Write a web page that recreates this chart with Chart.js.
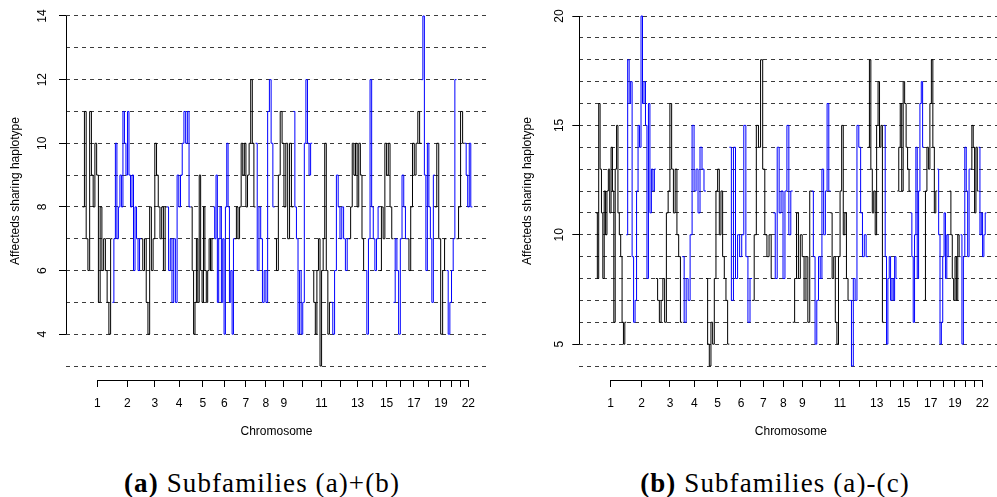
<!DOCTYPE html>
<html><head><meta charset="utf-8">
<script src="https://cdn.jsdelivr.net/npm/chart.js@4.4.1/dist/chart.umd.min.js"></script>
<style>
html,body{margin:0;padding:0;background:#fff;}
#wrap{position:relative;width:997px;height:497px;overflow:hidden;background:#fff;}
.panel{position:absolute;top:0;}
#pA{left:0;}
#pB{left:498px;}
.cap{position:absolute;top:468px;font-family:'Liberation Serif','Times New Roman',serif;font-size:27px;line-height:31px;letter-spacing:1.1px;white-space:nowrap;transform:translateX(-50%);color:#000;}
</style></head><body>
<div id="wrap">
<div class="panel" id="pA"><canvas id="cA" width="498" height="455"></canvas></div>
<div class="panel" id="pB"><canvas id="cB" width="510" height="455"></canvas></div>
<div class="cap" style="left:262px"><b>(a)</b> Subfamilies (a)+(b)</div>
<div class="cap" style="left:775px"><b>(b)</b> Subfamilies (a)-(c)</div>
</div>
<script>
// ---------- shared ----------
const chrNumbers = [1,2,3,4,5,6,7,8,9,10,11,12,13,14,15,16,17,18,19,20,21,22];
const chrLabelsShown = [1,2,3,4,5,6,7,8,9,11,13,15,17,19,22];

// ---------- panel (a): Subfamilies (a)+(b) ----------
const chrBoundsAB = [0,267,525,757,972,1175,1368,1554,1726,1894,2064,2233,2395,2541,2671,2795,2918,3046,3167,3272,3362,3435,3504];
const chrTicksAB  = [132,402,648,867,1080,1275,1467,1647,1809,1979,2148,2318,2472,2610,2733,2858,2979,3112,3222,3321,3402,3468];
const yTicksAB  = [3,4,5,6,7,8,9,10,11,12,13,14];
const yLabelsAB = [4,6,8,10,12,14];
const subAB_chr1  = [8,11,7,6,11,9,8,10,9,5,8,6,7,6,5,4,7];
const subAB_chr2  = [5,7,10,7,8,9,8,11,10,9,11,9,8,9,6,8,7,6,7];
const subAB_chr3  = [7,6,7,5,4,8,6,7,10,9,8,7,8,6,8];
const subAB_chr4  = [8,6,7,5,7,5,9,8,9,10,11,10,11,8];
const subAB_chr5  = [8,6,4,5,7,5,9,6,5,8,6,5,6,7,6,7];
const subAB_chr6  = [8,7,9,5,7,8,5,7,4,8,10,8,5,6,4,7];
const subAB_chr7  = [7,8,7,8,10,9,10,8,9,10,12,10,8];
const subAB_chr8  = [10,6,8,7,5,6,5,11,12,10,8];
const subAB_chr9  = [7,6,9,11,10,8,10,7,10,8];
const subAB_chr10 = [11,8,7,4,6,4,5,10,12,10,9,10];
const subAB_chr11 = [6,5,4,6,7,3,6,7,10,6,4,5];
const subAB_chr12 = [5,4,6,9,8,7,8,7,6,7];
const subAB_chr13 = [7,8,10,9,10,8,10,9,7,6];
const subAB_chr14 = [6,4,7,12,8,7,6,7,8];
const subAB_chr15 = [6,8,7,10,9,10,8,7];
const subAB_chr16 = [5,7,6,4,7,9,8,7];
const subAB_chr17 = [7,6,8,10,9,10,11,10];
const subAB_chr18 = [12,14,9,6,10,8,7,5,9];
const subAB_chr19 = [8,10,7,4,6,7];
const subAB_chr20 = [6,4,5,6,7,12];
const subAB_chr21 = [7,8,11,10];
const subAB_chr22 = [10,9,8,10,8];

// ---------- panel (b): Subfamilies (a)-(c) ----------
const chrBoundsAC = [0,272,539,776,990,1200,1405,1596,1771,1941,2111,2283,2448,2591,2712,2831,2952,3072,3182,3281,3371,3444,3515];
const chrTicksAC  = [132,411,666,885,1095,1305,1506,1686,1857,2025,2196,2370,2526,2655,2769,2892,3013,3132,3231,3330,3411,3477];
const yTicksAC  = [4,5,6,7,8,9,10,11,12,13,14,15,16,17,18,19,20];
const yLabelsAC = [5,10,15,20];
const subAC_chr1  = [11,8,16,13,11,8,12,10,12,13,11,14,12,6,13,15,11,10,9,6,5,6];
const subAC_chr2  = [10,18,16,17,9,6,7,12,15,14,20,16,17,15,8,16,11,13,12,13];
const subAC_chr3  = [8,7,6,7,8,6,11,12,16,13,11,13,10,9,6];
const subAC_chr4  = [9,6,8,7,10,15,12,13,11,14,13,12];
const subAC_chr5  = [8,5,4,6,5,8,12,13,10,12,9,8,7,5];
const subAC_chr6  = [14,7,14,8,10,9,10,15,9,6,8];
const subAC_chr7  = [7,10,15,14,18,13,10,9,10,8];
const subAC_chr8  = [11,8,14,11,12,8,12,15,10,12];
const subAC_chr9  = [6,8,11,8,10,9,7,9,6,12];
const subAC_chr10 = [12,9,5,7,9,8,13,10,12,16,12];
const subAC_chr11 = [11,8,9,6,5,9,12,15,10,11,8,7];
const subAC_chr12 = [7,4,8,7,15,14,11,9,10,9];
const subAC_chr13 = [14,18,13,11,12,10,15,17,14,15,6];
const subAC_chr14 = [15,9,5,8,9,7,8,7,9,8];
const subAC_chr15 = [12,14,16,12,17,16,14,13,12];
const subAC_chr16 = [11,9,6,10,14,8,12,16,17,14];
const subAC_chr17 = [7,12,14,13,16,18,14,11,12];
const subAC_chr18 = [13,10,5,6,9,11,8,10,9];
const subAC_chr19 = [12,10,8,7,9,7,10,9];
const subAC_chr20 = [10,5,9,14,12,9,13];
const subAC_chr21 = [13,15,14,11,14,12];
const subAC_chr22 = [14,10,11,9,10,11];

const seriesAB = [subAB_chr1,subAB_chr2,subAB_chr3,subAB_chr4,subAB_chr5,subAB_chr6,subAB_chr7,subAB_chr8,subAB_chr9,subAB_chr10,subAB_chr11,subAB_chr12,subAB_chr13,subAB_chr14,subAB_chr15,subAB_chr16,subAB_chr17,subAB_chr18,subAB_chr19,subAB_chr20,subAB_chr21,subAB_chr22];
const seriesAC = [subAC_chr1,subAC_chr2,subAC_chr3,subAC_chr4,subAC_chr5,subAC_chr6,subAC_chr7,subAC_chr8,subAC_chr9,subAC_chr10,subAC_chr11,subAC_chr12,subAC_chr13,subAC_chr14,subAC_chr15,subAC_chr16,subAC_chr17,subAC_chr18,subAC_chr19,subAC_chr20,subAC_chr21,subAC_chr22];

Chart.defaults.font.family = "'Liberation Sans', Arial, Helvetica, sans-serif";
Chart.defaults.font.size = 12;
Chart.defaults.color = '#000';

function stepPoints(vals, x0, x1) {
  const n = vals.length, w = (x1 - x0) / n;
  const pts = vals.map((v, i) => ({x: x0 + i * w, y: v}));
  pts.push({x: x1, y: vals[n - 1]});
  return pts;
}

function buildDatasets(series, bounds) {
  return series.map((vals, i) => ({
    label: 'Chr ' + chrNumbers[i],
    data: stepPoints(vals, bounds[i], bounds[i + 1]),
    stepped: 'before',
    borderColor: i % 2 === 0 ? '#000000' : '#0000ff',
    borderWidth: 1,
    pointRadius: 0,
    fill: false,
    tension: 0
  }));
}

// R-style detached axis lines (drawn through the chart's own scales)
const rAxisLines = {
  id: 'rAxisLines',
  afterDraw(chart, args, opts) {
    const {ctx, chartArea} = chart;
    const xs = chart.scales.x, ys = chart.scales.y;
    ctx.save();
    ctx.strokeStyle = '#000';
    ctx.lineWidth = 1;
    ctx.setLineDash([]);
    ctx.beginPath();
    const ax = Math.round(chartArea.left) + 0.5;
    ctx.moveTo(ax, ys.getPixelForValue(opts.yFrom));
    ctx.lineTo(ax, ys.getPixelForValue(opts.yTo));
    const ay = Math.round(chartArea.bottom) + 0.5;
    ctx.moveTo(xs.getPixelForValue(opts.xFrom), ay);
    ctx.lineTo(xs.getPixelForValue(opts.xTo), ay);
    ctx.stroke();
    ctx.restore();
  }
};

function makeChart(canvasId, cfg) {
  return new Chart(document.getElementById(canvasId), {
    type: 'line',
    data: {datasets: buildDatasets(cfg.series, cfg.bounds)},
    plugins: [rAxisLines],
    options: {
      responsive: false,
      animation: false,
      events: [],
      layout: {padding: {top: 2, left: 0, right: cfg.padRight, bottom: 0}},
      plugins: {
        legend: {display: false},
        tooltip: {enabled: false},
        rAxisLines: {yFrom: cfg.yLabels[0], yTo: cfg.yLabels[cfg.yLabels.length - 1], xFrom: cfg.chrTicks[0], xTo: cfg.chrTicks[cfg.chrTicks.length - 1]}
      },
      scales: {
        x: {
          type: 'linear',
          min: cfg.xMin, max: cfg.xMax,
          afterBuildTicks: s => { s.ticks = cfg.chrTicks.map(v => ({value: v})); },
          afterFit: s => { s.height = 75; s.paddingLeft = 0; s.paddingRight = 0; },
          grid: {drawOnChartArea: false, drawTicks: true, tickLength: 7, tickColor: '#000', tickWidth: 1},
          border: {display: false},
          ticks: {
            autoSkip: false, maxRotation: 0, minRotation: 0, padding: 9, color: '#000',
            callback: (v, i) => chrLabelsShown.includes(chrNumbers[i]) ? String(chrNumbers[i]) : ''
          },
          title: {display: true, text: 'Chromosome', color: '#000', font: {size: 12}, padding: {top: 0, bottom: 16}}
        },
        y: {
          type: 'linear',
          min: cfg.yMin, max: cfg.yMax,
          afterBuildTicks: s => { s.ticks = cfg.yTicks.map(v => ({value: v})); },
          afterFit: s => { s.width = cfg.yWidth; s.paddingTop = 0; s.paddingBottom = 0; },
          grid: {
            drawOnChartArea: true, drawTicks: true, tickLength: 7, tickWidth: 1,
            color: '#3c3c3c', lineWidth: 1,
            tickColor: c => cfg.yLabels.includes(c.tick && c.tick.value) ? '#000' : 'rgba(0,0,0,0)',
            tickBorderDash: []
          },
          border: {display: false, dash: [4, 4]},
          ticks: {
            minRotation: 90, maxRotation: 90, crossAlign: 'center', padding: cfg.yPad, color: '#000',
            callback: v => cfg.yLabels.includes(v) ? String(v) : ''
          },
          title: {display: true, text: 'Affecteds sharing haplotype', color: '#000', font: {size: 12}, padding: {top: cfg.yTitlePad, bottom: 0}}
        }
      }
    }
  });
}

makeChart('cA', {
  series: seriesAB, bounds: chrBoundsAB, chrTicks: chrTicksAB,
  yTicks: yTicksAB, yLabels: yLabelsAB,
  xMin: -150, xMax: 3636, yMin: 2.56, yMax: 14.44,
  yWidth: 66, padRight: 11, yPad: 10, yTitlePad: 8.6
});
makeChart('cB', {
  series: seriesAC, bounds: chrBoundsAC, chrTicks: chrTicksAC,
  yTicks: yTicksAC, yLabels: yLabelsAC,
  xMin: -150, xMax: 3657, yMin: 3.36, yMax: 20.64,
  yWidth: 81.3, padRight: 5.7, yPad: 6, yTitlePad: 22.8
});
</script>
</body></html>
